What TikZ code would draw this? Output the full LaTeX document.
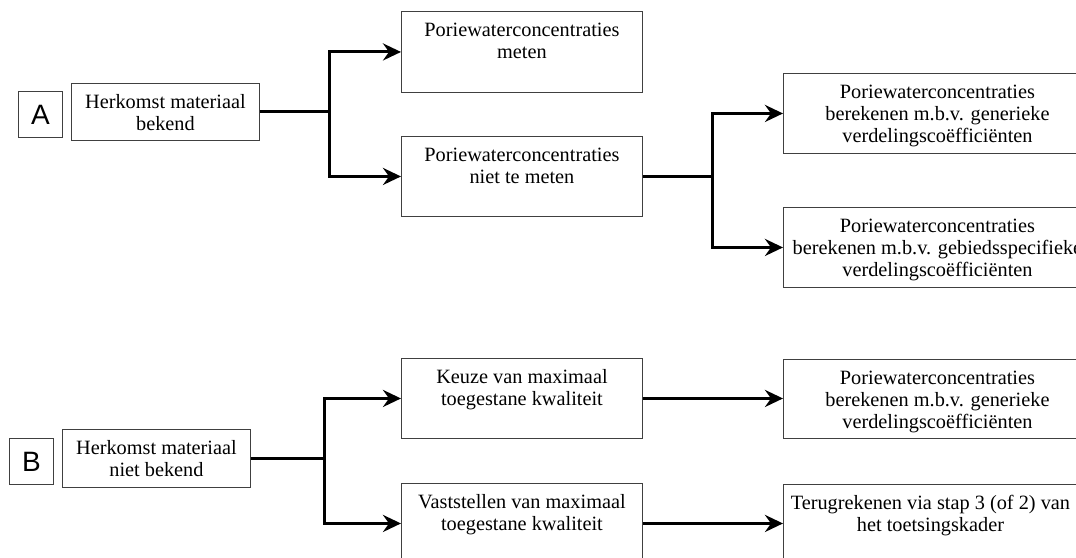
\documentclass[tikz,border=0pt]{standalone}
\usepackage{fontspec}
\setmainfont{Liberation Serif}
\newfontfamily\lblfont{Liberation Sans}
\usetikzlibrary{arrows.meta}
\tikzset{
  box/.style={draw=black!75, line width=0.9pt, inner sep=0pt, anchor=north west},
  txt/.style={inner sep=0pt, align=center, font=\fontsize{20.3}{22}\selectfont, anchor=north, text=black},
  conn/.style={line width=3pt, line join=miter},
  arr/.style={conn, -{Stealth[length=18pt,width=17pt,inset=6pt]}},
  lbl/.style={draw=black!75, line width=0.9pt, inner sep=0pt, font=\lblfont\fontsize{28}{30}\selectfont,
    minimum width=44pt, minimum height=46pt, anchor=north west}
}
\newcommand\flowbox[6]{%
  \node[box, minimum width=#4pt, minimum height=#5pt] (#1) at (#2,#3) {};
  \node[txt] (#1-t) at ([yshift=-9.6pt]#1.north) {\strut #6};
}
\begin{document}
\begin{tikzpicture}[x=1pt, y=-1pt]
\clip (0,0) rectangle (1076,557);
\fill[white] (0,0) rectangle (1076,557);

% ---- Part A ----
\node[lbl] (A) at (18,91) {A};
\flowbox{HA}{71}{83}{188}{57}{Herkomst materiaal\\bekend}
\flowbox{PM}{401}{11}{241}{81}{Poriewaterconcentraties\\meten}
\flowbox{NTM}{401}{136}{241}{80}{Poriewaterconcentraties\\niet te meten}
\flowbox{R1}{783}{73}{308}{80}{Poriewaterconcentraties\\berekenen m.b.v. generieke\\verdelingscoëfficiënten}
\flowbox{R2}{783}{207}{308}{80}{Poriewaterconcentraties\\berekenen m.b.v. gebiedsspecifieke\\verdelingscoëfficiënten}

\path (HA.east) ++(70,0) coordinate (jA);
\draw[conn] (HA.east) -- (jA);
\draw[arr] (jA) |- (PM.west);
\draw[arr] (jA) |- (NTM.west);

\path (NTM.east) ++(70,0) coordinate (jA2);
\draw[conn] (NTM.east) -- (jA2);
\draw[arr] (jA2) |- (R1.west);
\draw[arr] (jA2) |- (R2.west);

% ---- Part B ----
\node[lbl] (B) at (9,438) {B};
\flowbox{HB}{62}{429}{188}{58}{Herkomst materiaal\\niet bekend}
\flowbox{KZ}{401}{358}{241}{80}{Keuze van maximaal\\toegestane kwaliteit}
\flowbox{VS}{401}{483}{241}{80}{Vaststellen van maximaal\\toegestane kwaliteit}
\flowbox{RB1}{783}{359}{308}{79}{Poriewaterconcentraties\\berekenen m.b.v. generieke\\verdelingscoëfficiënten}
\node[box, minimum width=308pt, minimum height=80pt] (TR) at (783,484) {};
\node[txt] (TR-t) at ([xshift=-7pt, yshift=-9.6pt]TR.north) {\strut Terugrekenen via stap 3 (of 2) van\\het toetsingskader};

\path (HB.east) ++(74,0) coordinate (jB);
\draw[conn] (HB.east) -- (jB);
\draw[arr] (jB) |- (KZ.west);
\draw[arr] (jB) |- (VS.west);

\draw[arr] (KZ.east) -- (KZ.east -| RB1.west);
\draw[arr] (VS.east) -- (VS.east -| TR.west);
\end{tikzpicture}
\end{document}
